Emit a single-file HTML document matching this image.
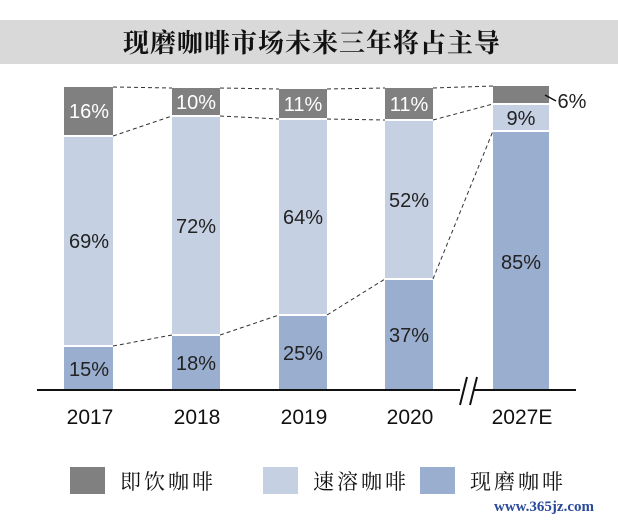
<!DOCTYPE html>
<html><head><meta charset="utf-8"><style>
body{margin:0;width:618px;height:522px;background:#fff;overflow:hidden;position:relative;font-family:"Liberation Sans","Noto Sans CJK SC",sans-serif}
</style></head><body>
<svg width="618" height="522" style="position:absolute;left:0;top:0" font-family="Liberation Sans, Noto Sans CJK SC, sans-serif">
<rect x="0" y="20" width="618" height="44" fill="#d9d9d9"/>
<text x="312" y="52" text-anchor="middle" font-size="26" font-weight="bold" fill="#111" font-family="Noto Serif CJK SC, serif" letter-spacing="1">现磨咖啡市场未来三年将占主导</text>
<g fill="#808080">
<rect x="64" y="87" width="49" height="48"/><rect x="172" y="88" width="48" height="27"/><rect x="279" y="89" width="48" height="29"/><rect x="385" y="88" width="48" height="31"/><rect x="493" y="86" width="56" height="17"/></g>
<g fill="#c5d0e3">
<rect x="64" y="137" width="49" height="208"/><rect x="172" y="117" width="48" height="217"/><rect x="279" y="120" width="48" height="194"/><rect x="385" y="121" width="48" height="157"/><rect x="493" y="105" width="56" height="25"/></g>
<g fill="#9aaecf">
<rect x="64" y="347" width="49" height="43"/><rect x="172" y="336" width="48" height="54"/><rect x="279" y="316" width="48" height="74"/><rect x="385" y="280" width="48" height="110"/><rect x="493" y="132" width="56" height="258"/></g>
<g stroke="#333" stroke-width="1" stroke-dasharray="4,3" fill="none">
<path d="M113 87L172 88M220 88L279 89M327 89L385 88M433 88L493 86"/>
<path d="M113 136L172 116M220 116L279 119M327 119L385 120M433 120L493 104"/>
<path d="M113 346L172 335M220 335L279 315M327 315L385 279M433 279L493 131"/>
</g>
<line x1="37" y1="390" x2="576" y2="390" stroke="#111" stroke-width="2"/>
<rect x="460" y="385" width="14" height="10" fill="#fff"/>
<line x1="460" y1="405" x2="467" y2="377" stroke="#111" stroke-width="2"/>
<line x1="470" y1="405" x2="477" y2="377" stroke="#111" stroke-width="2"/>
<line x1="545" y1="95" x2="556" y2="101" stroke="#111" stroke-width="1.5"/>
<g font-size="20" text-anchor="middle" fill="#fff">
<text x="89" y="118">16%</text><text x="196" y="109">10%</text><text x="303" y="111">11%</text><text x="409" y="111">11%</text></g>
<g font-size="20" text-anchor="middle" fill="#222">
<text x="89" y="248">69%</text><text x="196" y="233">72%</text><text x="303" y="224">64%</text><text x="409" y="207">52%</text><text x="521" y="125">9%</text>
<text x="89" y="376">15%</text><text x="196" y="370">18%</text><text x="303" y="360">25%</text><text x="409" y="342">37%</text><text x="521" y="269">85%</text>
<text x="572" y="108">6%</text></g>
<g font-size="21" text-anchor="middle" fill="#111">
<text x="90" y="424">2017</text><text x="197" y="424">2018</text><text x="304" y="424">2019</text><text x="410" y="424">2020</text><text x="522" y="424">2027E</text></g>
<rect x="70" y="467" width="35" height="27" fill="#808080"/>
<rect x="263" y="467" width="35" height="27" fill="#c5d0e3"/>
<rect x="420" y="467" width="35" height="27" fill="#9aaecf"/>
<g font-size="21" fill="#111" font-family="Noto Serif CJK SC, serif" letter-spacing="3">
<text x="120" y="489">即饮咖啡</text><text x="313" y="489">速溶咖啡</text><text x="470" y="489">现磨咖啡</text></g>
<text x="494" y="511" font-size="15" font-weight="bold" fill="#2a4a9a" font-family="Liberation Serif, serif">www.365jz.com</text>
</svg>
</body></html>
